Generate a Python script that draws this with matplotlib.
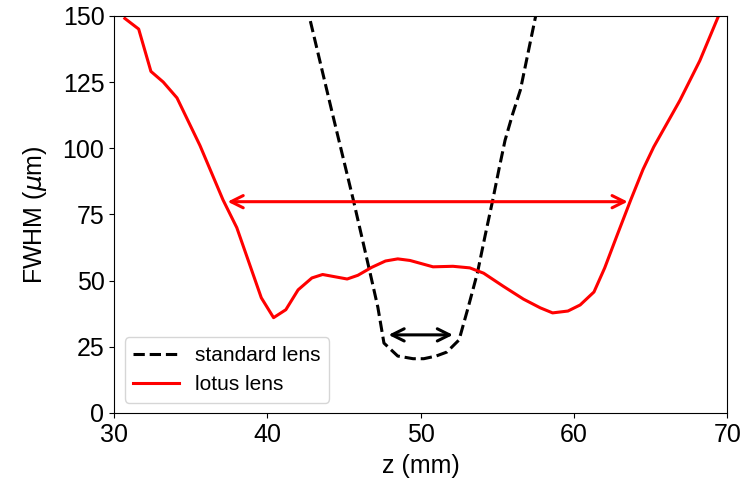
import matplotlib
matplotlib.use("Agg")
import matplotlib.pyplot as plt

plt.rcParams['font.family'] = ['Liberation Sans', 'DejaVu Sans']

# standard lens (black dashed)
std_z = [42.8, 44.2, 45.6, 46.7, 47.2, 47.6, 48.5, 49.5, 50.2, 51.0, 51.7, 52.5, 53.1, 53.7, 54.2, 54.7, 55.1, 55.5, 56.0, 56.5, 57.0, 57.5]
std_w = [148, 114, 80.5, 52.8, 40, 26.4, 21.5, 20.5, 20.5, 21.5, 23, 27.6, 40, 53, 67, 80.5, 92, 103, 113, 122, 136, 150]

# lotus lens (red solid)
lot_z = [30.7, 31.6, 32.4, 33.2, 34.1, 35.6, 37.1, 38.0, 39.6, 40.4, 41.2, 42.0, 42.9, 43.6, 45.2, 45.9,
         46.8, 47.7, 48.5, 49.3, 50.8, 52.1, 53.2, 54.1, 55.4, 56.7, 57.8, 58.6, 59.6, 60.4, 61.3,
         62.0, 62.8, 63.7, 64.5, 65.2, 66.9, 68.2, 69.4]
lot_w = [149, 145, 129, 125, 119, 101, 80.5, 70, 43.5, 36, 39, 46.5, 51, 52.3, 50.6, 52,
         55, 57.4, 58.2, 57.6, 55.2, 55.4, 54.8, 52.8, 47.8, 43, 39.7, 37.8, 38.5, 40.8, 45.7,
         54.8, 67, 80.5, 92, 100.5, 118, 133, 149.6]

# arrows: (z_start, z_end, level)
red_arrow = (37.4, 63.5, 79.8)
black_arrow = (47.9, 52.1, 29.5)

fig = plt.figure(figsize=(7.46, 4.94), dpi=100)
ax = fig.add_axes([0.153, 0.164, 0.822, 0.804])

ax.plot(std_z, std_w, color='black', linestyle='--', lw=2.2, label='standard lens')
ax.plot(lot_z, lot_w, color='red', linestyle='-', lw=2.2, label='lotus lens')

ax.annotate('', xy=(red_arrow[0], red_arrow[2]), xytext=(red_arrow[1], red_arrow[2]),
            arrowprops=dict(arrowstyle='<->', color='red', lw=2.2, mutation_scale=22, shrinkA=0, shrinkB=0))
ax.annotate('', xy=(black_arrow[0], black_arrow[2]), xytext=(black_arrow[1], black_arrow[2]),
            arrowprops=dict(arrowstyle='<->', color='black', lw=2.2, mutation_scale=22, shrinkA=0, shrinkB=0))

ax.set_xlim(30, 70)
ax.set_ylim(0, 150)
ax.set_xticks([30, 40, 50, 60, 70])
ax.set_yticks([0, 25, 50, 75, 100, 125, 150])
ax.tick_params(labelsize=18)
ax.set_xlabel('z (mm)', fontsize=18, labelpad=5)
ax.set_ylabel(r'FWHM ($\mu$m)', fontsize=18, labelpad=10)
ax.legend(loc='lower left', fontsize=15, handlelength=2.2)

fig.savefig('out.png', dpi=100)
